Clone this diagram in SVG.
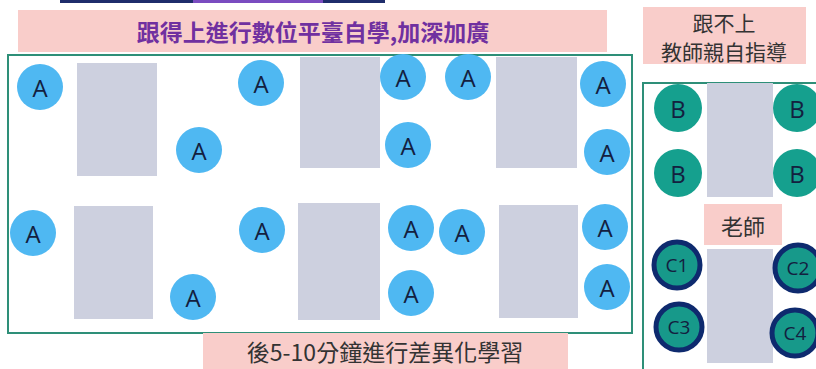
<svg xmlns="http://www.w3.org/2000/svg" width="816" height="369" viewBox="0 0 816 369">
<style>
.pink{fill:#f9cdca}
.frame{fill:none;stroke:#2e8f78;stroke-width:2}
.desk{fill:#cdd0df}
.a{fill:#4fb8f2}
.b{fill:#15a08e}
.c{fill:#17998a;stroke:#0e2a6e;stroke-width:5}
.lbl{font-family:"Open Sans","Noto Sans",sans-serif;font-size:24px;fill:#13203f;text-anchor:middle;dominant-baseline:central}
.clbl{font-family:"Open Sans","Noto Sans",sans-serif;font-size:19px;fill:#13203f;text-anchor:middle;dominant-baseline:central}
.cjk{font-family:"Noto Sans CJK TC","Noto Sans CJK SC",sans-serif;text-anchor:middle;dominant-baseline:central}
</style>
<rect width="816" height="369" fill="#ffffff"/>
<g id="topbar">
<rect x="60" y="0" width="133" height="3" fill="#1f2d6b"/>
<rect x="193" y="0" width="130" height="3" fill="#7a4cc0"/>
<rect x="323" y="0" width="62" height="3" fill="#1f2d6b"/>
</g>
<g id="title">
<rect class="pink" x="18" y="10" width="589" height="42"/>
<text class="cjk" x="313" y="31" font-size="23" font-weight="bold" fill="#7030a0">跟得上進行數位平臺自學,加深加廣</text>
</g>
<g id="title-right">
<rect class="pink" x="643" y="7" width="163" height="57"/>
<text class="cjk" x="724" y="22" font-size="21" fill="#333">跟不上</text>
<text class="cjk" x="724" y="51" font-size="21" fill="#333">教師親自指導</text>
</g>
<g id="main-room">
<rect class="frame" x="8" y="55" width="624" height="278"/>
<rect class="desk" x="77" y="63" width="80" height="113"/>
<rect class="desk" x="300" y="57" width="80" height="111"/>
<rect class="desk" x="496" y="57" width="81" height="111"/>
<rect class="desk" x="74" y="206" width="79" height="113"/>
<rect class="desk" x="298" y="203" width="82" height="117"/>
<rect class="desk" x="499" y="205" width="79" height="113"/>
</g>
<g id="students-a">
<g><circle class="a" cx="40" cy="87" r="23"/><text class="lbl" x="40" y="87">A</text></g>
<g><circle class="a" cx="199" cy="150" r="23"/><text class="lbl" x="199" y="150">A</text></g>
<g><circle class="a" cx="261" cy="83" r="23"/><text class="lbl" x="261" y="83">A</text></g>
<g><circle class="a" cx="403" cy="77" r="23"/><text class="lbl" x="403" y="77">A</text></g>
<g><circle class="a" cx="468" cy="77" r="23"/><text class="lbl" x="468" y="77">A</text></g>
<g><circle class="a" cx="408" cy="145" r="23"/><text class="lbl" x="408" y="145">A</text></g>
<g><circle class="a" cx="603" cy="84" r="23"/><text class="lbl" x="603" y="84">A</text></g>
<g><circle class="a" cx="607" cy="152" r="23"/><text class="lbl" x="607" y="152">A</text></g>
<g><circle class="a" cx="33" cy="233" r="23"/><text class="lbl" x="33" y="233">A</text></g>
<g><circle class="a" cx="193" cy="297" r="23"/><text class="lbl" x="193" y="297">A</text></g>
<g><circle class="a" cx="262" cy="230" r="23"/><text class="lbl" x="262" y="230">A</text></g>
<g><circle class="a" cx="411" cy="228" r="23"/><text class="lbl" x="411" y="228">A</text></g>
<g><circle class="a" cx="462" cy="232" r="23"/><text class="lbl" x="462" y="232">A</text></g>
<g><circle class="a" cx="411" cy="293" r="23"/><text class="lbl" x="411" y="293">A</text></g>
<g><circle class="a" cx="605" cy="227" r="23"/><text class="lbl" x="605" y="227">A</text></g>
<g><circle class="a" cx="607" cy="287" r="23"/><text class="lbl" x="607" y="287">A</text></g>
</g>
<g id="bottom-label">
<rect class="pink" x="203" y="333" width="365" height="40"/>
<text class="cjk" x="385" y="351" font-size="23" fill="#333">後5-10分鐘進行差異化學習</text>
</g>
<g id="teacher-room">
<rect class="frame" x="643" y="83" width="200" height="300"/>
<rect class="desk" x="707" y="83" width="66" height="114"/>
<rect class="desk" x="707" y="249" width="66" height="114"/>
<g><circle class="b" cx="678" cy="108" r="24"/><text class="lbl" x="678" y="108">B</text></g>
<g><circle class="b" cx="797" cy="108" r="24"/><text class="lbl" x="797" y="108">B</text></g>
<g><circle class="b" cx="678" cy="173" r="24"/><text class="lbl" x="678" y="173">B</text></g>
<g><circle class="b" cx="797" cy="173" r="24"/><text class="lbl" x="797" y="173">B</text></g>
<g id="teacher"><rect class="pink" x="704" y="204" width="78" height="41"/><text class="cjk" x="743" y="225" font-size="22" fill="#333">老師</text></g>
<g><circle class="c" cx="677" cy="265" r="23"/><text class="clbl" x="677" y="265">C1</text></g>
<g><circle class="c" cx="798" cy="268" r="23"/><text class="clbl" x="798" y="268">C2</text></g>
<g><circle class="c" cx="679" cy="327" r="23"/><text class="clbl" x="679" y="327">C3</text></g>
<g><circle class="c" cx="795" cy="333" r="23"/><text class="clbl" x="795" y="333">C4</text></g>
</g>
</svg>
